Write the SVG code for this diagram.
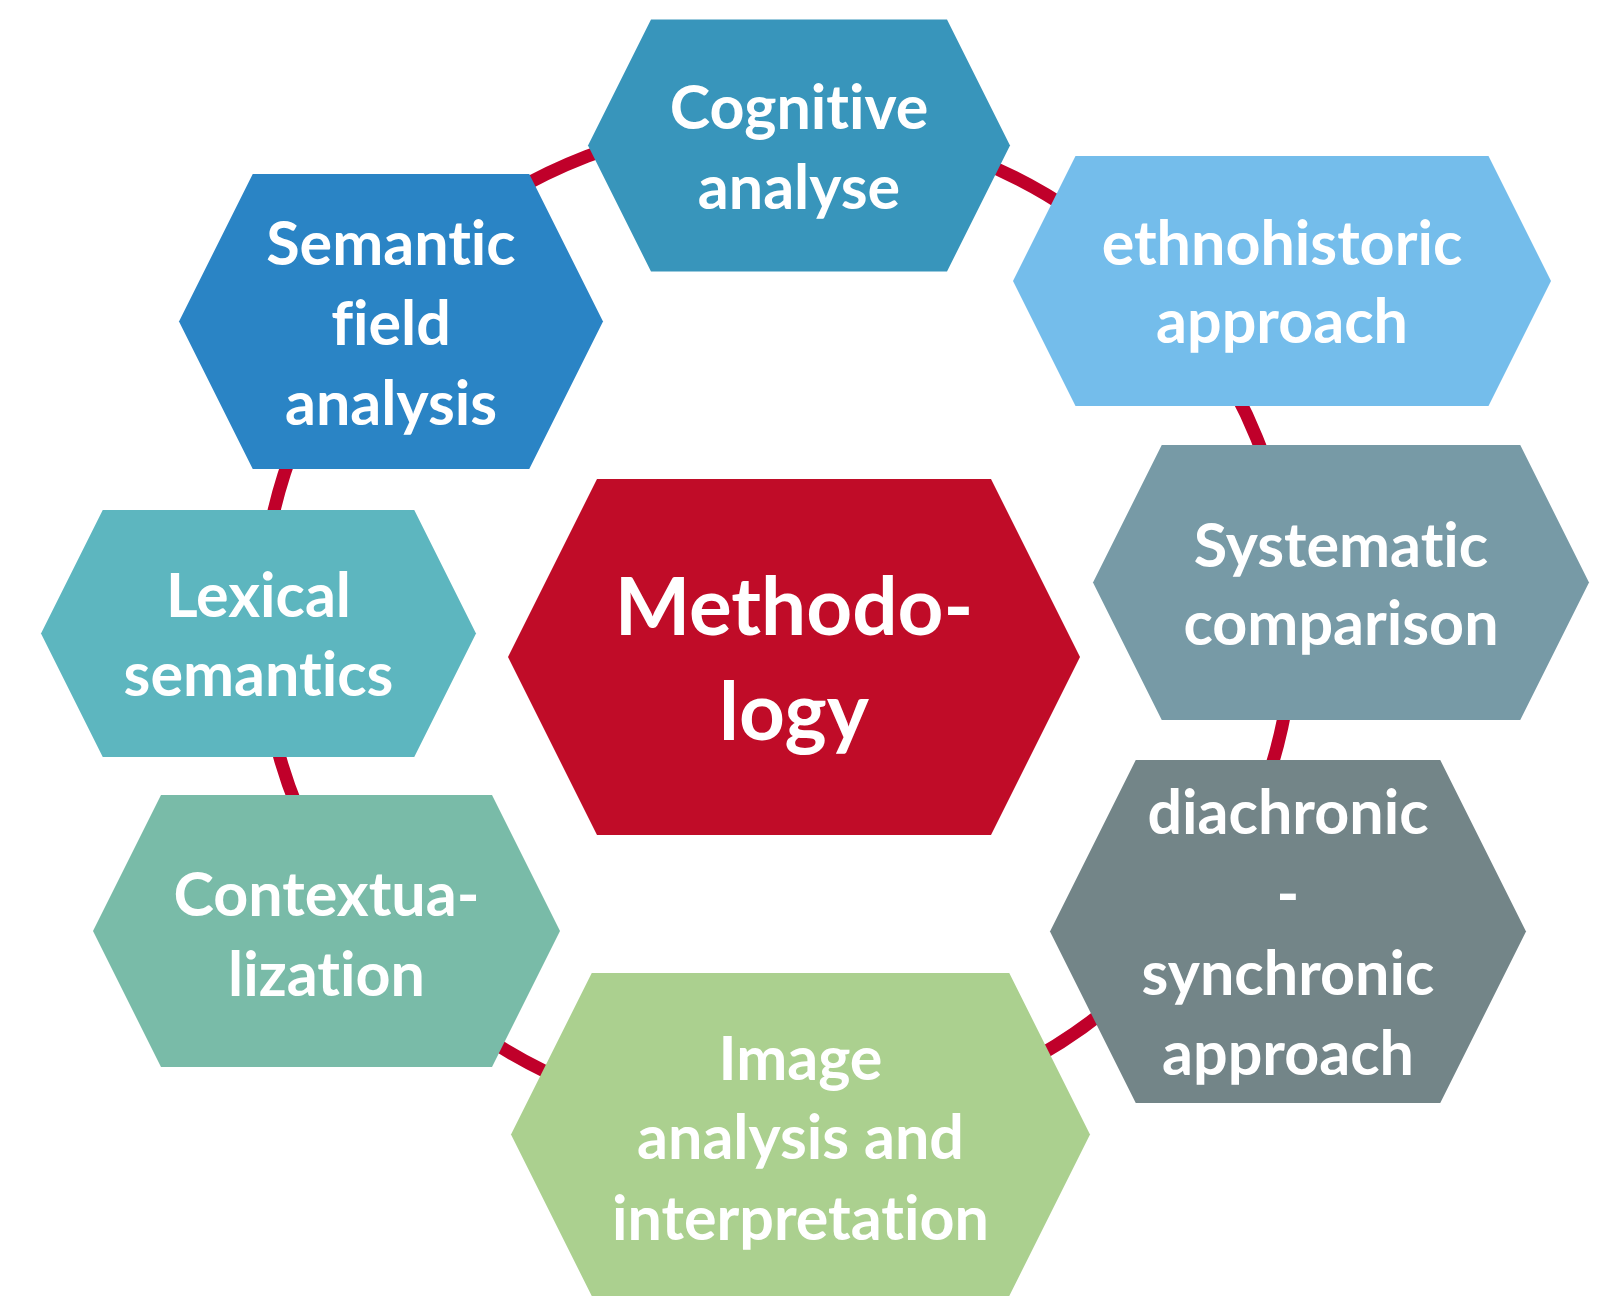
<svg xmlns="http://www.w3.org/2000/svg" width="1613" height="1297" viewBox="0 0 1613 1297">
<style>
.t{font-family:Lato,"Liberation Sans",sans-serif;font-weight:700;font-size:61px;fill:#ffffff;text-anchor:middle;font-variant-ligatures:none;font-feature-settings:"liga" 0,"clig" 0}
.big{font-size:80px}
.ring{fill:none;stroke:#C0002A;stroke-width:13}
</style>
<rect width="1613" height="1297" fill="#ffffff"/>
<g id="connectors">
<ellipse class="ring" cx="777" cy="623" rx="516" ry="502"/>
</g>
<g id="cognitive">
<polygon points="651,19.5 947,19.5 1010,145.5 947,271.5 651,271.5 588,145.5" fill="#3895BB"/>
<text class="t" x="799" y="128.6">Cognitive</text>
<text class="t" x="799" y="208.8">analyse</text>
</g>
<g id="semantic">
<polygon points="252.75,174 529.25,174 603,321.5 529.25,469 252.75,469 179,321.5" fill="#2A84C5"/>
<text class="t" x="391" y="265.4">Semantic</text>
<text class="t" x="391" y="344.6">field</text>
<text class="t" x="391" y="424.9">analysis</text>
</g>
<g id="ethnohistoric">
<polygon points="1075.5,156 1488.5,156 1551,281 1488.5,406 1075.5,406 1013,281" fill="#74BDEB"/>
<text class="t" x="1282" y="265.4">ethnohistoric</text>
<text class="t" x="1282" y="342.6">approach</text>
</g>
<g id="systematic">
<polygon points="1161.75,445 1520.25,445 1589,582.5 1520.25,720 1161.75,720 1093,582.5" fill="#779AA6"/>
<text class="t" x="1341" y="566.8">Systematic</text>
<text class="t" x="1341" y="645">comparison</text>
</g>
<g id="diachronic">
<polygon points="1135.75,760 1440.25,760 1526,931.5 1440.25,1103 1135.75,1103 1050,931.5" fill="#738588"/>
<text class="t" x="1288" y="834.3">diachronic</text>
<text class="t" x="1288" y="914.5">-</text>
<text class="t" x="1288" y="994.7">synchronic</text>
<text class="t" x="1288" y="1075">approach</text>
</g>
<g id="image">
<polygon points="591.75,973 1009.25,973 1090,1134.5 1009.25,1296 591.75,1296 511,1134.5" fill="#ABD08F"/>
<text class="t" x="800.5" y="1080">Image</text>
<text class="t" x="800.5" y="1159">analysis and</text>
<text class="t" x="800.5" y="1239.6">interpretation</text>
</g>
<g id="contextualization">
<polygon points="161,795 492,795 560,931 492,1067 161,1067 93,931" fill="#79BBA8"/>
<text class="t" x="326.5" y="915.5">Contextua-</text>
<text class="t" x="326.5" y="995.8">lization</text>
</g>
<g id="lexical">
<polygon points="102.75,510 414.25,510 476,633.5 414.25,757 102.75,757 41,633.5" fill="#5DB6BF"/>
<text class="t" x="258.5" y="617.2">Lexical</text>
<text class="t" x="258.5" y="696.4">semantics</text>
</g>
<g id="methodology">
<polygon points="597,479 991,479 1080,657 991,835 597,835 508,657" fill="#C00C28"/>
<text class="t big" x="794" y="634.7">Methodo-</text>
<text class="t big" x="794" y="739.6">logy</text>
</g>
</svg>
